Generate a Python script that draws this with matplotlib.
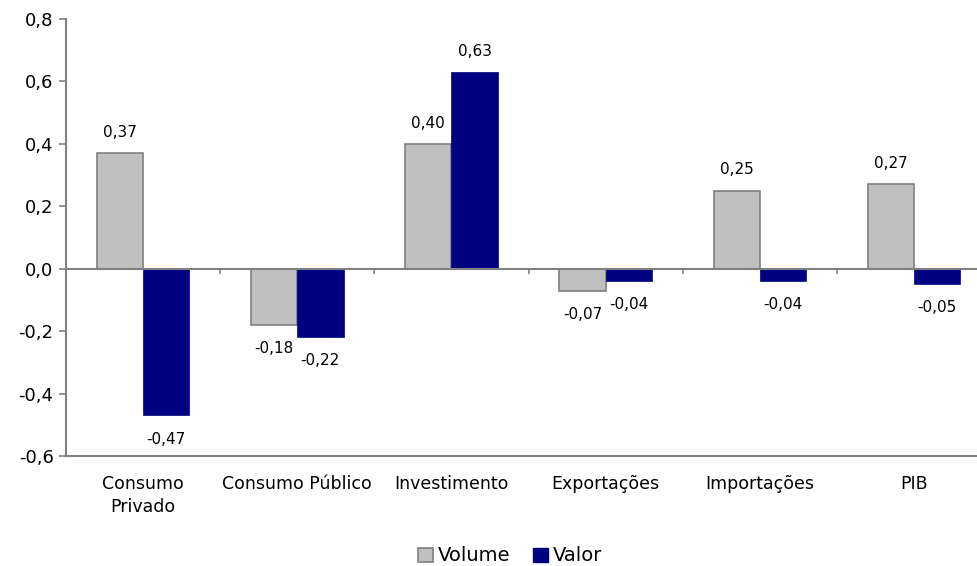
import numpy as np
import matplotlib
matplotlib.use('Agg')
import matplotlib.pyplot as plt
from matplotlib.patches import Patch

categorias = ['Consumo\nPrivado', 'Consumo Público', 'Investimento', 'Exportações', 'Importações', 'PIB']
volume = [0.37, -0.18, 0.40, -0.07, 0.25, 0.27]
valor = [-0.47, -0.22, 0.63, -0.04, -0.04, -0.05]
yticks = [-0.6, -0.4, -0.2, 0.0, 0.2, 0.4, 0.6, 0.8]

cinza = '#C0C0C0'
borda = '#808080'
azul = '#000080'

plt.rcParams['font.family'] = ['DejaVu Sans']

fig = plt.figure(figsize=(9.77, 5.66), dpi=100)
ax = fig.add_axes([66 / 977, 110 / 566, 925 / 977, 437 / 566])

x = np.arange(len(categorias))
w = 0.3
b1 = ax.bar(x - w / 2, volume, w, color=cinza, edgecolor=borda, linewidth=1.2)
b2 = ax.bar(x + w / 2, valor, w, color=azul, edgecolor=azul, linewidth=0.5)

def fmt(v):
    return f'{v:.2f}'.replace('.', ',')

for serie, barras in [(volume, b1), (valor, b2)]:
    for v, r in zip(serie, barras):
        cx = r.get_x() + r.get_width() / 2
        off = 15 if v >= 0 else -17
        ax.annotate(fmt(v), (cx, v), xytext=(0, off), textcoords='offset points',
                    ha='center', va='center', fontsize=11)

ax.set_xlim(-0.5, len(categorias) - 0.5)
ax.set_ylim(-0.6, 0.8)
ax.set_yticks(yticks)
ax.set_yticklabels([f'{t:.1f}'.replace('.', ',').replace('-0,0', '0,0') for t in yticks], fontsize=13)
ax.set_xticks(x)
ax.set_xticklabels(categorias, fontsize=12.5, linespacing=1.3)
ax.tick_params(axis='x', length=0, pad=14)
ax.tick_params(axis='y', length=5, color=borda, width=1.2, pad=4)

for s in ['top', 'right']:
    ax.spines[s].set_visible(False)
for s in ['left', 'bottom']:
    ax.spines[s].set_color(borda)
    ax.spines[s].set_linewidth(1.5)

ax.axhline(0, color=borda, linewidth=1.5, zorder=3)
limites = x[:-1] + 0.5
ax.vlines(limites, -0.016, 0, color=borda, linewidth=1.2, zorder=3)

handles = [Patch(facecolor=cinza, edgecolor=borda, linewidth=1.2, label='Volume'),
           Patch(facecolor=azul, edgecolor=azul, label='Valor')]
fig.legend(handles=handles, loc='lower center', bbox_to_anchor=(0.522, -0.03), ncol=2,
           frameon=False, fontsize=14, handlelength=0.75, handleheight=0.75,
           handletextpad=0.25, columnspacing=1.2)

fig.savefig('out.png', dpi=100)
